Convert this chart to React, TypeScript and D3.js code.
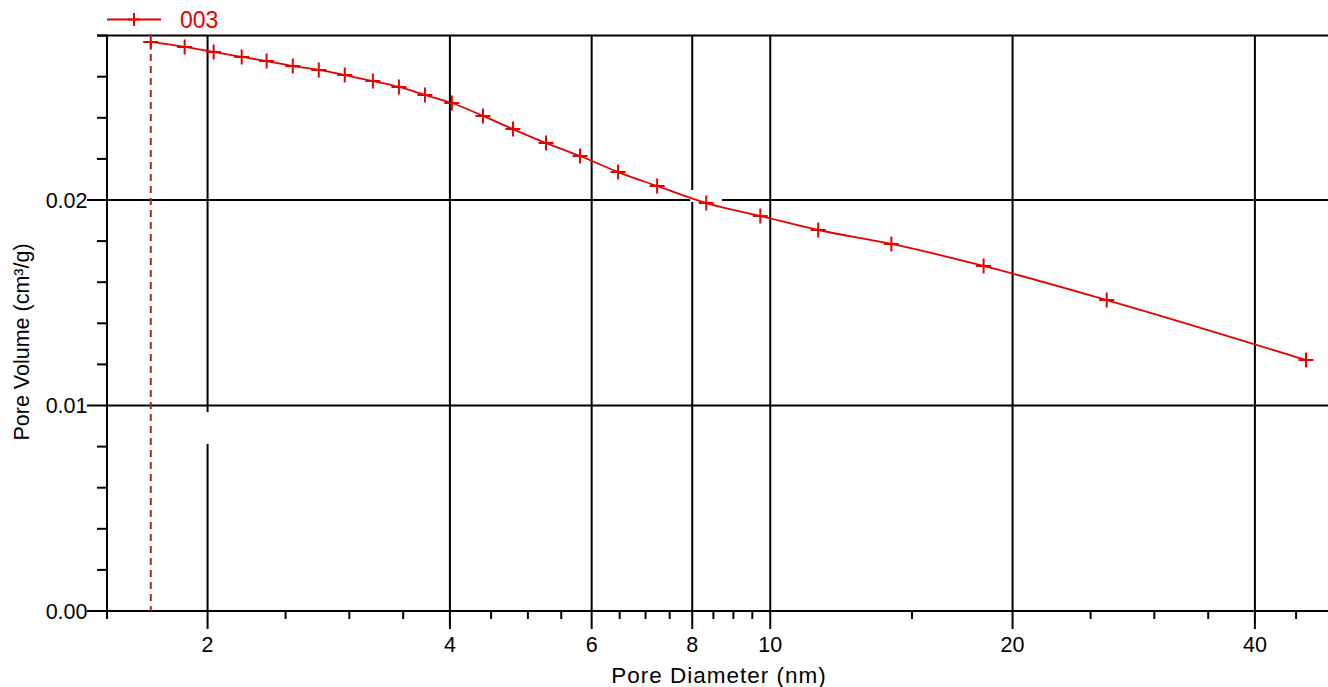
import React from "react";
import * as d3 from "d3";

const seriesName = "003";
const poreDiameter = [1.70, 1.873, 2.035, 2.205, 2.368, 2.552, 2.749, 2.961, 3.209, 3.457, 3.724, 4.022, 4.397, 4.790, 5.266, 5.803, 6.471, 7.236, 8.327, 9.719, 11.47, 14.14, 18.41, 26.18, 46.29];
const poreVolume = [0.02769, 0.02745, 0.02720, 0.02696, 0.02676, 0.02652, 0.02633, 0.02608, 0.02579, 0.02550, 0.02511, 0.02472, 0.02409, 0.02345, 0.02277, 0.02214, 0.02136, 0.02068, 0.01985, 0.01922, 0.01854, 0.01786, 0.01679, 0.01513, 0.01221];
const xMajorTicks = [2, 4, 6, 8, 10, 20, 40];
const xMinorTicks = [1.5, 2.5, 3, 3.5, 4.5, 5, 5.5, 6.5, 7, 7.5, 8.5, 9, 9.5, 15, 25, 30, 35, 45];
const yMajorTicks = [0, 0.01, 0.02];
const yMinorTicks = [0.002, 0.004, 0.006, 0.008, 0.012, 0.014, 0.016, 0.018, 0.022, 0.024, 0.026, 0.028];
const xAxisTitle = "Pore Diameter (nm)";
const yAxisTitle = "Pore Volume (cm³/g)";

const W = 1328, H = 687;
const left = 107, top = 35.6, bottom = 611;
const FONT = "'Liberation Sans', Arial, sans-serif";
const RED = "#e60000";

export default function App() {
  const x = d3.scaleLog().domain([1.5, 50]).range([left, left + 805 * Math.log10(50 / 1.5)]);
  const y = d3.scaleLinear().domain([0, 0.028]).range([bottom, top]);
  const right = x(50);
  const pts = poreDiameter.map((d, i) => [d, poreVolume[i]] as [number, number]);
  const line = d3.line<[number, number]>().x(d => x(d[0])).y(d => y(d[1])).curve(d3.curveMonotoneX);
  const fmt = d3.format(".2f");
  const ms = 7.5;
  return (
    <div style={{ position: "absolute", left: 0, top: 0 }}>
      <svg width={W} height={H} style={{ display: "block", background: "#fff" }} fontFamily={FONT}>
        <rect x={0} y={0} width={W} height={H} fill="#fff" />
        {/* grid */}
        {xMajorTicks.map(t => (
          <line key={"gx" + t} x1={x(t)} x2={x(t)} y1={top} y2={bottom} stroke="#000" strokeWidth={2} />
        ))}
        {yMajorTicks.filter(t => t > 0).map(t => (
          <line key={"gy" + t} x1={left} x2={right} y1={y(t)} y2={y(t)} stroke="#000" strokeWidth={2} />
        ))}
        {/* white knockouts */}
        <rect x={x(2) - 6} y={412} width={12} height={32} fill="#fff" />
        <rect x={690} y={190} width={32} height={12} fill="#fff" />
        {/* frame */}
        <line x1={left - 10} x2={right} y1={top} y2={top} stroke="#000" strokeWidth={2} />
        <line x1={left} x2={right} y1={bottom} y2={bottom} stroke="#000" strokeWidth={2} />
        <line x1={left} x2={left} y1={top} y2={bottom} stroke="#000" strokeWidth={2} />
        <line x1={right} x2={right} y1={top} y2={bottom} stroke="#000" strokeWidth={2} />
        {/* x ticks */}
        {xMajorTicks.map(t => (
          <g key={"xt" + t}>
            <line x1={x(t)} x2={x(t)} y1={bottom} y2={bottom + 18} stroke="#000" strokeWidth={2} />
            <text x={x(t)} y={bottom + 41} textAnchor="middle" fontSize={21.5} fill="#000">{t}</text>
          </g>
        ))}
        {xMinorTicks.map(t => (
          <line key={"xm" + t} x1={x(t)} x2={x(t)} y1={bottom} y2={bottom + 8} stroke="#000" strokeWidth={2} />
        ))}
        {/* y ticks */}
        {yMajorTicks.map(t => (
          <g key={"yt" + t}>
            <line x1={left - 20} x2={left} y1={y(t)} y2={y(t)} stroke="#000" strokeWidth={2} />
            <text x={left - 19.5} y={y(t) + 7.5} textAnchor="end" fontSize={21.5} fill="#000">{fmt(t)}</text>
          </g>
        ))}
        {yMinorTicks.map(t => (
          <line key={"ym" + t} x1={left - 10} x2={left} y1={y(t)} y2={y(t)} stroke="#000" strokeWidth={2} />
        ))}
        {/* axis titles */}
        <text x={(610 + 828) / 2} y={683} textAnchor="middle" fontSize={22.5} letterSpacing={1} fill="#000">{xAxisTitle}</text>
        <text transform={`translate(29,342) rotate(-90)`} textAnchor="middle" fontSize={21.5} fill="#000">{yAxisTitle}</text>
        {/* dashed marker line */}
        <line x1={x(poreDiameter[0])} x2={x(poreDiameter[0])} y1={y(poreVolume[0])} y2={bottom} stroke="#a52a2a" strokeWidth={2} strokeDasharray="7,5" />
        {/* curve */}
        <path d={line(pts) || ""} fill="none" stroke={RED} strokeWidth={1.8} />
        {pts.map((d, i) => (
          <path key={"m" + i} d={`M${x(d[0]) - ms},${y(d[1])}H${x(d[0]) + ms}M${x(d[0])},${y(d[1]) - ms}V${y(d[1]) + ms}`} stroke={RED} strokeWidth={2} fill="none" />
        ))}
        {/* legend */}
        <line x1={107} x2={161} y1={19.5} y2={19.5} stroke={RED} strokeWidth={2} />
        <path d={`M${134 - 6},19.5H${134 + 6}M134,${19.5 - 6.5}V${19.5 + 6.5}`} stroke={RED} strokeWidth={2} fill="none" />
        <text x={180} y={27.5} fontSize={23} fill={RED}>{seriesName}</text>
      </svg>
    </div>
  );
}
